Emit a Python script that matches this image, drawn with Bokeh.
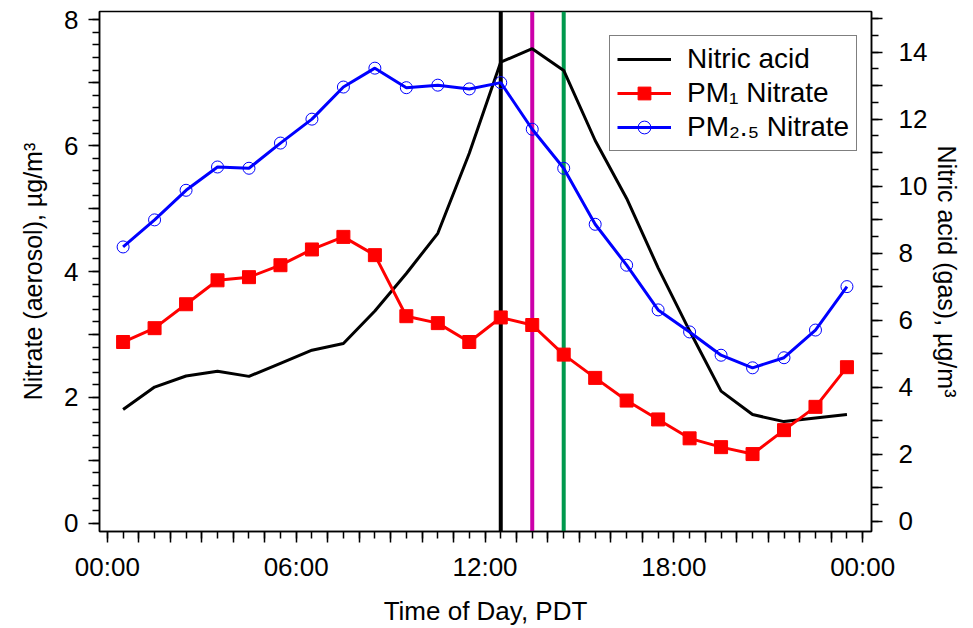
from bokeh.plotting import figure
from bokeh.models import Range1d, LinearAxis, FixedTicker, Span, Legend, LegendItem
from bokeh.embed import file_html
from bokeh.resources import INLINE

# ---- data ----
hours = [0.5, 1.5, 2.5, 3.5, 4.5, 5.5, 6.5, 7.5, 8.5, 9.5, 10.5, 11.5,
         12.5, 13.5, 14.5, 15.5, 16.5, 17.5, 18.5, 19.5, 20.5, 21.5, 22.5, 23.5]
nitric_acid = [3.33, 4.00, 4.33, 4.47, 4.32, 4.71, 5.10, 5.30, 6.27, 7.39, 8.59, 10.98,
               13.70, 14.10, 13.45, 11.36, 9.63, 7.56, 5.68, 3.88, 3.18, 2.97, 3.08, 3.18]
pm1_nitrate = [2.88, 3.10, 3.48, 3.86, 3.91, 4.10, 4.35, 4.55, 4.26, 3.29, 3.18, 2.88,
               3.27, 3.15, 2.68, 2.31, 1.95, 1.65, 1.35, 1.21, 1.10, 1.48, 1.85, 2.48]
pm25_nitrate = [4.39, 4.82, 5.29, 5.66, 5.64, 6.04, 6.42, 6.93, 7.23, 6.92, 6.96, 6.90,
                7.00, 6.26, 5.64, 4.75, 4.10, 3.39, 3.04, 2.67, 2.47, 2.63, 3.07, 3.76]
event_hours = [12.5, 13.5, 14.5]
event_colors = ["black", "#cc00aa", "#00994d"]

x_label_hours = [0, 6, 12, 18, 24]
x_labels = ["00:00", "06:00", "12:00", "18:00", "00:00"]
left_labels = [0, 2, 4, 6, 8]
right_labels = [0, 2, 4, 6, 8, 10, 12, 14]

FONT = "Liberation Sans"

p = figure(width=971, height=628, output_backend="svg", toolbar_location=None,
           x_range=Range1d(-0.25, 24.28), y_range=Range1d(-0.13, 8.13),
           min_border_left=99, min_border_right=100, min_border_top=11, min_border_bottom=97)
p.extra_y_ranges = {"gas": Range1d(-0.31, 15.21)}
p.xgrid.visible = False
p.ygrid.visible = False
p.background_fill_color = "white"
p.border_fill_color = "white"
p.outline_line_color = "black"
p.outline_line_width = 1.5
p.outline_line_alpha = 1.0

right_axis = LinearAxis(y_range_name="gas")
p.add_layout(right_axis, "right")


def style(ax, ticks, minor, overrides, label, label_size, standoff, label_standoff):
    ax.ticker = FixedTicker(ticks=ticks, minor_ticks=minor)
    ax.major_label_overrides = overrides
    ax.axis_label = label
    ax.axis_label_text_font = FONT
    ax.axis_label_text_font_size = label_size
    ax.axis_label_text_font_style = "normal"
    ax.axis_label_text_color = "black"
    ax.major_label_text_font = FONT
    ax.major_label_text_font_size = "26px"
    ax.major_label_text_color = "black"
    ax.major_tick_out = 11
    ax.major_tick_in = 0
    ax.minor_tick_out = 7
    ax.minor_tick_in = 0
    ax.axis_line_color = "black"
    ax.axis_line_width = 1.5
    ax.major_tick_line_color = "black"
    ax.major_tick_line_width = 1.5
    ax.minor_tick_line_color = "black"
    ax.minor_tick_line_width = 1.5
    ax.major_label_standoff = standoff
    ax.axis_label_standoff = label_standoff


x_ticks = list(range(0, 25))
x_minor = [h / 2 for h in range(0, 49)]
x_over = {t: "" for t in x_ticks}
for t, lab in zip(x_label_hours, x_labels):
    x_over[t] = lab
style(p.xaxis[0], x_ticks, x_minor, x_over, "Time of Day, PDT", "26px", 9, 11)

l_ticks = list(range(0, 9))
l_minor = [i / 5 for i in range(0, 41)]
l_over = {t: ("" if t not in left_labels else str(t)) for t in l_ticks}
style(p.yaxis[0], l_ticks, l_minor, l_over, "Nitrate (aerosol), µg/m³", "25px", 10, 14)

r_ticks = list(range(0, 16))
r_minor = [i / 2 for i in range(0, 31)]
r_over = {t: ("" if t not in right_labels else str(t)) for t in r_ticks}
style(right_axis, r_ticks, r_minor, r_over, "Nitric acid (gas), µg/m³", "25px", 16, 3)

for t, c in zip(event_hours, event_colors):
    p.add_layout(Span(location=t, dimension="height", line_color=c, line_width=4,
                      level="underlay"))

r_hno3 = p.line(hours, nitric_acid, line_color="black", line_width=3, y_range_name="gas")
r_pm1_l = p.line(hours, pm1_nitrate, line_color="#ff0000", line_width=3)
r_pm1_m = p.scatter(hours, pm1_nitrate, marker="square", size=13, fill_color="#ff0000",
                    line_color="#ff0000")
r_pm25_l = p.line(hours, pm25_nitrate, line_color="#0000ff", line_width=3)
r_pm25_m = p.scatter(hours, pm25_nitrate, marker="circle", size=12, fill_color="white",
                     fill_alpha=0.0, line_color="#0000ff", line_width=1)

legend = Legend(items=[
    LegendItem(label="Nitric acid", renderers=[r_hno3]),
    LegendItem(label="PM₁ Nitrate", renderers=[r_pm1_l, r_pm1_m]),
    LegendItem(label="PM₂.₅ Nitrate", renderers=[r_pm25_l, r_pm25_m]),
], location=(510, 380))
legend.label_text_font = FONT
legend.label_text_font_size = "28px"
legend.label_text_color = "black"
legend.glyph_width = 54
legend.glyph_height = 32
legend.label_height = 32
legend.spacing = 2
legend.padding = 7
legend.margin = 0
legend.label_standoff = 16
legend.border_line_color = "black"
legend.border_line_width = 1.5
legend.background_fill_color = "white"
legend.background_fill_alpha = 1.0
p.add_layout(legend, "center")

open("out.html", "w").write(file_html(p, INLINE))
